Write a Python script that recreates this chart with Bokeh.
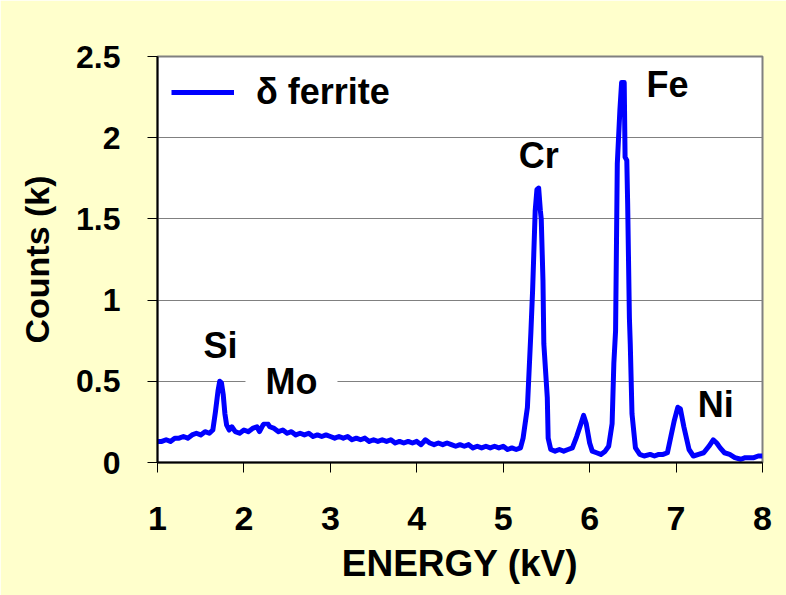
from bokeh.plotting import figure
from bokeh.models import Range1d, FixedTicker, Label, Legend, LegendItem, NumeralTickFormatter
from bokeh.embed import file_html
from bokeh.resources import INLINE

# ---- data ----
energy = [1.00, 1.05, 1.10, 1.15, 1.20, 1.25, 1.30, 1.35, 1.40, 1.45, 1.50, 1.55, 1.60,
          1.64, 1.67, 1.70, 1.72, 1.74, 1.76, 1.78, 1.80, 1.83, 1.86, 1.90, 1.95, 2.00,
          2.05, 2.10, 2.15, 2.18, 2.22, 2.26, 2.30, 2.35, 2.40, 2.45, 2.50, 2.55, 2.60,
          2.65, 2.70, 2.75, 2.80, 2.85, 2.90, 2.95, 3.00, 3.05, 3.10, 3.15, 3.20, 3.25,
          3.30, 3.35, 3.40, 3.45, 3.50, 3.55, 3.60, 3.65, 3.70, 3.75, 3.80, 3.85, 3.90,
          3.95, 4.00, 4.05, 4.10, 4.15, 4.20, 4.25, 4.30, 4.35, 4.40, 4.45, 4.50, 4.55,
          4.60, 4.65, 4.70, 4.75, 4.80, 4.85, 4.90, 4.95, 5.00, 5.05, 5.10, 5.15, 5.20,
          5.23, 5.28, 5.32, 5.34, 5.37, 5.39, 5.41, 5.43, 5.44, 5.46, 5.47, 5.51, 5.52,
          5.55, 5.60, 5.65, 5.70, 5.75, 5.80, 5.85, 5.90, 5.93, 5.96, 6.00, 6.03, 6.08,
          6.13, 6.18, 6.22, 6.26, 6.28, 6.30, 6.32, 6.35, 6.37, 6.40, 6.41, 6.43, 6.44,
          6.46, 6.47, 6.49, 6.53, 6.58, 6.63, 6.70, 6.75, 6.80, 6.85, 6.90, 6.94, 6.98,
          7.02, 7.05, 7.09, 7.15, 7.20, 7.26, 7.32, 7.38, 7.43, 7.47, 7.51, 7.56, 7.62,
          7.68, 7.75, 7.80, 7.85, 7.90, 7.95, 8.00]
counts = [0.13, 0.13, 0.14, 0.13, 0.15, 0.15, 0.16, 0.15, 0.17, 0.18, 0.17, 0.19, 0.18,
          0.20, 0.31, 0.44, 0.50, 0.49, 0.42, 0.30, 0.23, 0.20, 0.22, 0.19, 0.18, 0.20,
          0.19, 0.21, 0.22, 0.19, 0.23, 0.25, 0.22, 0.21, 0.19, 0.20, 0.18, 0.19, 0.17,
          0.18, 0.17, 0.18, 0.16, 0.17, 0.16, 0.17, 0.16, 0.15, 0.16, 0.15, 0.16, 0.14,
          0.15, 0.14, 0.15, 0.13, 0.14, 0.13, 0.14, 0.13, 0.14, 0.12, 0.13, 0.12, 0.13,
          0.12, 0.13, 0.11, 0.14, 0.12, 0.11, 0.12, 0.11, 0.12, 0.11, 0.10, 0.11, 0.10,
          0.11, 0.09, 0.10, 0.09, 0.10, 0.09, 0.10, 0.09, 0.10, 0.08, 0.09, 0.08, 0.09,
          0.15, 0.34, 0.80, 1.06, 1.55, 1.68, 1.69, 1.55, 1.50, 1.12, 0.73, 0.40, 0.15,
          0.08, 0.07, 0.08, 0.07, 0.08, 0.09, 0.16, 0.24, 0.29, 0.24, 0.12, 0.07, 0.06,
          0.05, 0.07, 0.10, 0.24, 0.61, 0.81, 1.84, 2.17, 2.34, 2.34, 1.88, 1.86, 1.59,
          0.89, 0.73, 0.30, 0.09, 0.05, 0.04, 0.05, 0.04, 0.05, 0.05, 0.06, 0.16, 0.26,
          0.34, 0.33, 0.22, 0.08, 0.04, 0.05, 0.06, 0.10, 0.14, 0.12, 0.09, 0.06, 0.05,
          0.03, 0.02, 0.03, 0.03, 0.03, 0.04, 0.04]

x_ticks = [1, 2, 3, 4, 5, 6, 7, 8]
y_ticks = [0, 0.5, 1, 1.5, 2, 2.5]
y_tick_labels = ["0", "0.5", "1", "1.5", "2", "2.5"]

peak_names = ["Si", "Mo", "Cr", "Fe", "Ni"]
peak_label_x = [1.73, 2.55, 5.41, 6.90, 7.46]
peak_label_y = [0.72, 0.50, 1.89, 2.33, 0.36]

series_name = "\u03b4 ferrite"

FONT = "Liberation Sans"
BG = "#FFFFCC"

p = figure(frame_width=605, frame_height=406,
           x_range=Range1d(1, 8), y_range=Range1d(0, 2.5),
           output_backend="svg", toolbar_location=None,
           min_border_left=157, min_border_right=24,
           min_border_top=56, min_border_bottom=133,
           background_fill_color="white", border_fill_color=BG,
           outline_line_color="#808080", outline_line_width=2)

r = p.line(energy, counts, line_color="#0000FF", line_width=5, line_join="round")

# axes
for ax in (p.xaxis[0], p.yaxis[0]):
    ax.major_label_text_font = FONT
    ax.major_label_text_font_style = "bold"
    ax.major_label_text_color = "black"
    ax.axis_label_text_font = FONT
    ax.axis_label_text_font_style = "bold"
    ax.axis_label_text_color = "black"
    ax.axis_line_color = "black"
    ax.axis_line_width = 2
    ax.major_tick_in = 0
    ax.major_tick_out = 10
    ax.major_tick_line_color = "black"
    ax.minor_tick_in = 0
    ax.minor_tick_out = 0

p.xaxis.ticker = FixedTicker(ticks=x_ticks)
p.yaxis.ticker = FixedTicker(ticks=y_ticks)
p.yaxis.formatter = NumeralTickFormatter(format="0.[0]")
p.yaxis.major_label_overrides = dict(zip(y_ticks, y_tick_labels))
p.xaxis.axis_label = "ENERGY (kV)"
p.yaxis.axis_label = "Counts (k)"
p.xaxis.major_label_text_font_size = "34px"
p.yaxis.major_label_text_font_size = "32px"
p.xaxis.axis_label_text_font_size = "37px"
p.yaxis.axis_label_text_font_size = "34px"
p.xaxis.major_label_standoff = 34
p.yaxis.major_label_standoff = 27
p.xaxis.axis_label_standoff = 10
p.yaxis.axis_label_standoff = 17

p.xgrid.visible = False
p.ygrid.grid_line_color = "#808080"
p.ygrid.grid_line_width = 1

# peak labels
for name, lx, ly in zip(peak_names, peak_label_x, peak_label_y):
    kw = {}
    if name == "Mo":
        kw = dict(background_fill_color="white", padding=20)
    p.add_layout(Label(x=lx, y=ly, text=name, text_align="center", text_baseline="middle",
                       text_font=FONT, text_font_style="bold", text_font_size="36px",
                       text_color="black", **kw))

legend = Legend(items=[LegendItem(label=series_name, renderers=[r])],
                location="top_left", margin=14, padding=0, spacing=0,
                glyph_width=63, glyph_height=44, label_height=44, label_standoff=22,
                label_text_font=FONT, label_text_font_style="bold",
                label_text_font_size="36px", label_text_color="black",
                background_fill_color="white", background_fill_alpha=1.0,
                border_line_color=None)
p.add_layout(legend)

open("out.html", "w").write(file_html(p, INLINE))
